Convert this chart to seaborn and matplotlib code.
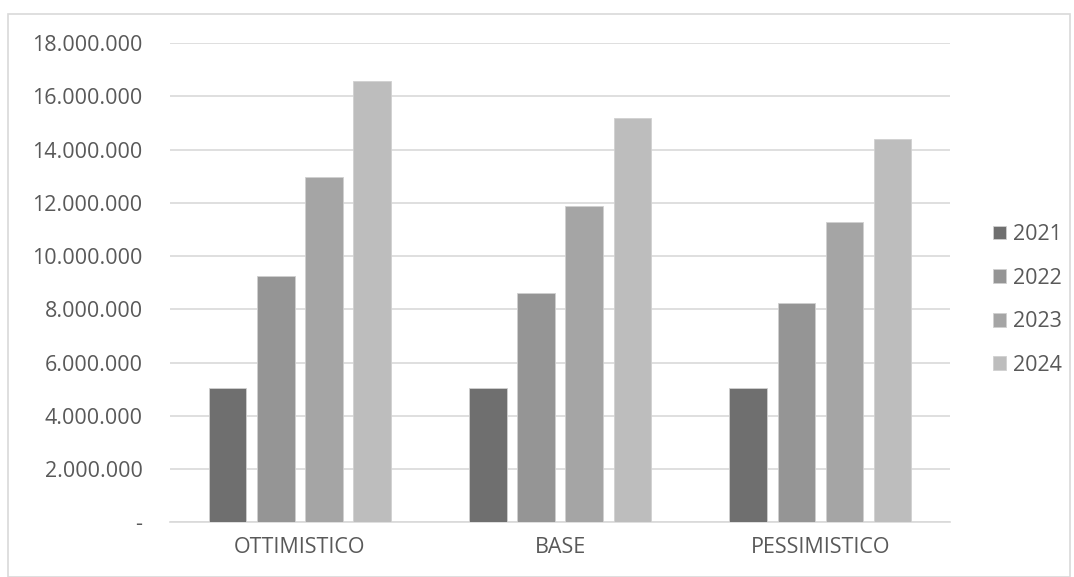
import matplotlib
matplotlib.use("Agg")
import matplotlib.pyplot as plt
import matplotlib.ticker as mticker
from matplotlib.patches import Rectangle
import seaborn as sns
import pandas as pd

categories = ["OTTIMISTICO", "BASE", "PESSIMISTICO"]
years = ["2021", "2022", "2023", "2024"]
v2021 = [5_030_000, 5_030_000, 5_030_000]
v2022 = [9_250_000, 8_600_000, 8_220_000]
v2023 = [12_970_000, 11_900_000, 11_270_000]
v2024 = [16_580_000, 15_200_000, 14_400_000]
colors = ["#6f6f6f", "#959595", "#a5a5a5", "#bdbdbd"]

rows = []
for y, vals in zip(years, [v2021, v2022, v2023, v2024]):
    for c, v in zip(categories, vals):
        rows.append({"Scenario": c, "Anno": y, "Valore": v})
df = pd.DataFrame(rows)

sns.set_style("white")
plt.rcParams['font.family'] = ['Open Sans', 'DejaVu Sans']

FS = 15.5
fig = plt.figure(figsize=(10.74, 5.77), dpi=100)
ax = fig.add_axes([0.158, 0.095, 0.727, 0.830])

sns.barplot(data=df, x="Scenario", y="Valore", hue="Anno", order=categories,
            hue_order=years, palette=colors, width=0.74, gap=0.22,
            edgecolor="#d0d0d0", linewidth=0.6, ax=ax, zorder=3)

ax.set_ylim(0, 18_000_000)
ax.set_xlim(-0.5, 2.5)
ax.yaxis.set_major_locator(mticker.MultipleLocator(2_000_000))

def fmt(v, pos):
    if abs(v) < 1:
        return "-"
    return f"{int(round(v)):,}".replace(",", ".")
ax.yaxis.set_major_formatter(mticker.FuncFormatter(fmt))

ax.grid(axis="y", color="#d9d9d9", linewidth=1.2, zorder=0)
ax.set_axisbelow(True)
for s in ["top", "right", "left"]:
    ax.spines[s].set_visible(False)
ax.spines["bottom"].set_color("#d9d9d9")
ax.spines["bottom"].set_linewidth(1.2)
ax.tick_params(axis="both", length=0, labelsize=FS, labelcolor="#595959")
ax.tick_params(axis="y", pad=19.5)
ax.tick_params(axis="x", pad=11)
ax.set_xlabel("")
ax.set_ylabel("")

leg = ax.legend(loc="center left", bbox_to_anchor=(993 / 1074, 1 - 300 / 577),
                bbox_transform=fig.transFigure, frameon=False, borderpad=0,
                borderaxespad=0, fontsize=FS, labelspacing=1.05,
                handlelength=0.6, handleheight=0.6, handletextpad=0.33)
for t in leg.get_texts():
    t.set_color("#595959")

fig.patches.append(Rectangle((8 / 1074, 0), 1062 / 1074, 1 - 14 / 577,
                             transform=fig.transFigure, fill=False,
                             edgecolor="#d9d9d9", linewidth=1.2))

fig.savefig("out.png", dpi=100)
